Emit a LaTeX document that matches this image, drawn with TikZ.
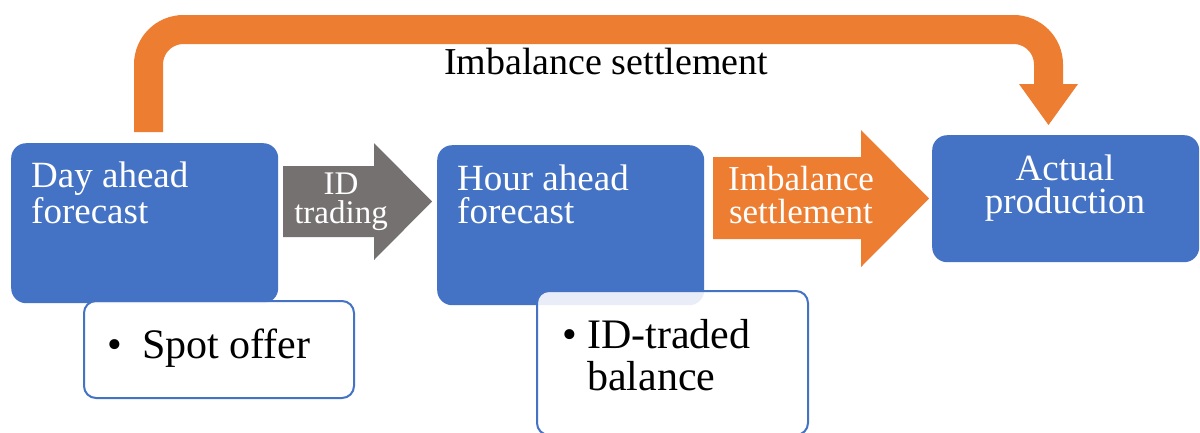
\documentclass[tikz,border=0pt]{standalone}
\usepackage{fontspec}
\setmainfont{Liberation Serif}
\definecolor{stageblue}{HTML}{4472C4}
\definecolor{settleorange}{HTML}{ED7D31}
\definecolor{tradegray}{HTML}{767171}
\begin{document}
\begin{tikzpicture}[x=1pt,y=-1pt,
  stagebox/.style={fill=stageblue, draw=none, rounded corners=15pt, inner sep=0pt, anchor=north west},
  notebox/.style={fill=white, fill opacity=0.88, draw=stageblue, line width=2pt, rounded corners=12pt, inner sep=0pt, anchor=north west},
  whitetext/.style={text=white, inner sep=0pt, font=\fontsize{37}{33}\selectfont},
  blacktext/.style={text=black, inner sep=0pt, font=\fontsize{42}{42}\selectfont},
]
\clip (0,0) rectangle (1200,432);
\fill[white] (0,0) rectangle (1200,432);

% long settlement arrow over the top
\coordinate (settleStart) at (148.5,132);
\coordinate (settleTurnA) at (148.5,29.5);
\coordinate (settleTurnB) at (1048.5,29.5);
\coordinate (settleShaft) at (1048.5,84);
\coordinate (settleTip) at (1048.5,125);
\draw[settleorange, line width=29pt, rounded corners=35pt]
  (settleStart) -- (settleTurnA) -- (settleTurnB) -- (settleShaft);
\fill[settleorange] ([xshift=-29.5pt]settleShaft) -- ([xshift=29.5pt]settleShaft) -- (settleTip) -- cycle;
\node[anchor=base, inner sep=0pt, font=\fontsize{38}{38}\selectfont] (topLabel) at (606,74) {Imbalance settlement};

% stage boxes
\node[stagebox, minimum width=267pt, minimum height=160pt] (day) at (11,143) {};
\node[stagebox, minimum width=267pt, minimum height=160pt] (hour) at (437,145) {};
\node[stagebox, minimum width=267pt, minimum height=127pt] (actual) at (932,135) {};

% block arrows between the stages
\fill[tradegray] (283,166) -- (374,166) -- (374,143) -- (432,201.5) -- (374,260) -- (374,237) -- (283,237) -- cycle;
\fill[settleorange] (713,157) -- (861,157) -- (861,130) -- (929,198.5) -- (861,267) -- (861,239) -- (713,239) -- cycle;

% stage labels; a multi-line node sits on the baseline of its last line
\node[whitetext, align=left, anchor=base west] (dayLabel) at (31,223) {Day ahead\\forecast};
\node[whitetext, align=left, anchor=base west] (hourLabel) at (457,223) {Hour ahead\\forecast};
\node[whitetext, align=center, anchor=base] (actLabel) at (1065,213) {Actual\\production};
\node[whitetext, align=center, anchor=base, font=\fontsize{33}{29}\selectfont] (idLabel) at (341,223) {ID\\trading};
\node[whitetext, align=center, anchor=base, font=\fontsize{35}{33}\selectfont] (imbLabel) at (801,223) {Imbalance\\settlement};

% note boxes under the forecasts
\node[notebox, minimum width=270pt, minimum height=97pt] (spot) at (83,300) {};
\node[notebox, minimum width=271pt, minimum height=144pt] (balance) at (536,290) {};
\node[blacktext, anchor=base] (spotBullet) at (115,358) {•};
\node[blacktext, anchor=base west] (spotText) at (142,358) {Spot offer};
\node[blacktext, anchor=base] (balBullet) at (570,348) {•};
\node[blacktext, align=left, anchor=base west] (balText) at (587,390) {ID-traded\\balance};
\end{tikzpicture}
\end{document}
